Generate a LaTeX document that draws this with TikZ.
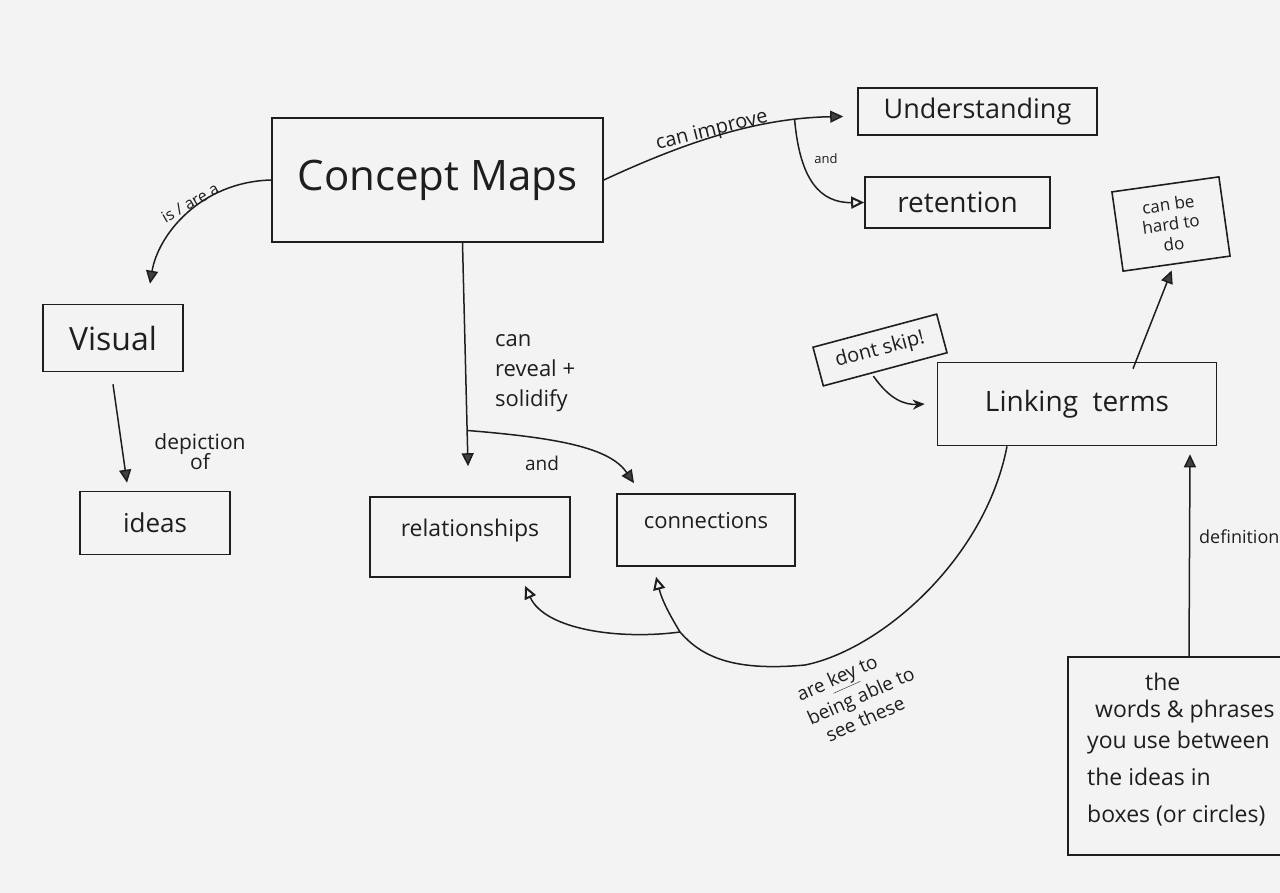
\documentclass[tikz,border=0pt]{standalone}
\usepackage{fontspec}
\setmainfont{Open Sans}
\usetikzlibrary{arrows.meta}
\definecolor{paper}{HTML}{F3F3F3}
\definecolor{ink}{HTML}{1E1E1E}
\tikzset{
  box/.style={draw=ink, line width=1.6pt, rectangle, inner sep=0pt, text=ink},
  arr/.style={draw=ink, line width=1.5pt, -{Triangle[length=13pt,width=12pt,fill=ink!85]}},
  oarr/.style={draw=ink, line width=1.5pt, -{Triangle[open,length=13pt,width=12pt,line width=2pt]}},
  lnk/.style={draw=ink, line width=1.5pt},
  lab/.style={text=ink, inner sep=1pt},
}
\newcommand{\fs}[1]{\fontsize{#1}{#1}\selectfont}
\begin{document}
\begin{tikzpicture}[x=1pt,y=-1pt]
\fill[paper] (0,0) rectangle (1280,893);
\useasboundingbox (0,0) rectangle (1280,893);
\clip (0,0) rectangle (1280,893);

% boxes
\node[box, minimum width=331pt, minimum height=124pt, font=\fs{42}] (cmap) at (437.5,180) {Concept Maps};
\node[box, minimum width=239pt, minimum height=47pt, font=\fs{27}] (under) at (977.5,111.5) {Understanding};
\node[box, minimum width=185pt, minimum height=51pt, font=\fs{28}] (ret) at (957.5,202.5) {retention};
\node[box, minimum width=108pt, minimum height=80pt, rotate=8, align=center, font=\fs{17}] (hard) at (1171,224) {can be\\[3pt]hard to\\[3pt]do};
\node[box, minimum width=140pt, minimum height=67pt, font=\fs{32}] (visual) at (113,338) {Visual};
\node[box, minimum width=150pt, minimum height=63pt, font=\fs{26}] (ideas) at (155,523) {ideas};
\node[box, minimum width=200pt, minimum height=80pt, text depth=18pt, font=\fs{23}] (rel) at (470,537) {relationships};
\node[box, minimum width=178pt, minimum height=72pt, text depth=20pt, font=\fs{22}] (conn) at (706,530) {connections};
\node[box, minimum width=279pt, minimum height=83pt, font=\fs{28}] (link) at (1077,404) {Linking\ \ terms};
\node[box, minimum width=128pt, minimum height=40pt, rotate=15, font=\fs{20}] (skip) at (880,350) {dont skip!};
\node[box, minimum width=224pt, minimum height=198pt] (def) at (1180,756) {};
\node[lab, anchor=north west, align=left, font=\fs{23}] (deftext) at (1086,672) {\hspace*{58pt}the\\[4pt]\hspace*{8pt}words \& phrases\\[8pt]you use between\\[14pt]the ideas in\\[14pt]boxes (or circles)};

% connectors
\draw[arr] (cmap.west) .. controls (200,182) and (158,235) .. ([xshift=37pt,yshift=20pt]visual.north);
\node[lab, rotate=30, font=\fs{16}] (isa) at (190,203) {is / are a};

\draw[arr] (cmap.east) .. controls (690,140) and (760,118) .. coordinate[pos=0.8] (b1) ([xshift=-14pt,yshift=-5pt]under.west);
\node[lab, rotate=14, font=\fs{20}] (imp) at (712,131) {can improve};
\draw[oarr] (b1) .. controls (800,180) and (820,203) .. (ret.west);
\node[lab, font=\fs{13}] (and1) at (826,159) {and};

\draw[arr] ([xshift=25pt]cmap.south) -- coordinate[pos=0.84] (b2) ([xshift=-2pt,yshift=30pt]rel.north);
\node[lab, anchor=north west, align=left, font=\fs{22}] (reveal) at (494,333) {can\\[8pt]reveal +\\[8pt]solidify};
\draw[arr] (b2) .. controls (560,438) and (610,448) .. ([xshift=-72pt,yshift=10pt]conn.north);
\node[lab, font=\fs{19}] (and2) at (542,463) {and};

\draw[arr] ([yshift=-12pt]visual.south) -- ([xshift=-28pt,yshift=8pt]ideas.north);
\node[lab, align=center, font=\fs{21}] (dep) at (200,452) {depiction\\[-2pt]of};

\draw[lnk, -{Stealth[length=12pt,width=10pt]}] ([xshift=-12pt,yshift=-6pt]skip.south) .. controls (890,400) and (905,405) .. ([xshift=-12pt]link.west);
\draw[arr] ([xshift=56pt,yshift=-7pt]link.north) -- ([xshift=-5pt,yshift=-6pt]hard.south);
\draw[arr] ([xshift=9pt]def.north) -- ([xshift=113pt,yshift=-8pt]link.south);
\node[lab, anchor=west, font=\fs{18}] (defn) at (1198,537) {definition};

\draw[oarr] ([xshift=-70pt]link.south) .. controls (985,560) and (880,650) .. (805,665)
   .. controls (730,672) and (700,655) .. (680,632) coordinate (b3)
   .. controls (668,612) and (662,600) .. ([xshift=-50pt,yshift=-10pt]conn.south);
\draw[oarr] (b3) .. controls (620,640) and (545,630) .. ([xshift=55pt,yshift=-8pt]rel.south);
\node[lab, rotate=24, align=left, font=\fs{19}] (key) at (860,694) {are \underline{key} to\\[4pt]being able to\\[4pt]\hspace*{10pt}see these};
\end{tikzpicture}
\end{document}
